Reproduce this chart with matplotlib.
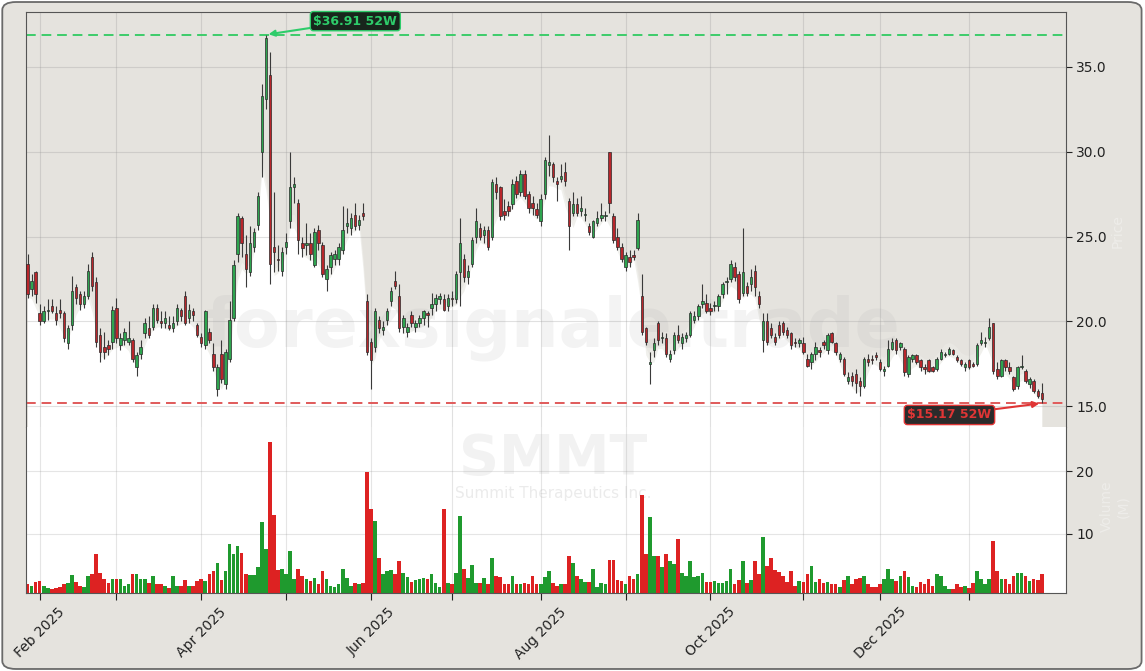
import numpy as np
import pandas as pd
import matplotlib
matplotlib.use("Agg")
import matplotlib.pyplot as plt
from matplotlib.patches import FancyBboxPatch

# SMMT daily candles, last 252 sessions (prices in $, volume in millions)
opens = [
    23.4, 21.9, 22.9, 20.5, 20.0, 20.6, 20.9, 20.5, 20.7, 20.5,
    18.7, 19.8, 22.0, 21.6, 21.0, 21.5, 23.8, 22.3, 19.2, 18.5,
    18.6, 18.8, 20.8, 18.6, 18.9, 18.8, 18.9, 17.3, 18.1, 19.3,
    19.6, 19.7, 20.8, 20.0, 19.9, 19.8, 19.6, 20.0, 20.7, 21.5,
    20.2, 20.6, 19.8, 19.1, 18.6, 19.4, 18.1, 16.0, 18.1, 16.3,
    17.8, 20.2, 24.0, 26.1, 24.0, 22.9, 24.4, 25.7, 30.0, 33.1,
    34.5, 24.4, 23.7, 23.0, 24.4, 25.9, 27.9, 27.0, 24.6, 24.5,
    24.6, 23.3, 25.4, 24.5, 22.5, 23.2, 23.7, 23.7, 24.2, 25.6,
    25.5, 26.3, 25.7, 26.4, 21.2, 18.8, 18.5, 20.1, 19.5, 20.1,
    21.2, 22.4, 21.5, 19.7, 19.4, 20.4, 19.7, 19.9, 20.2, 20.5,
    20.8, 21.0, 21.3, 21.3, 20.9, 21.4, 21.3, 22.9, 23.7, 22.6,
    23.4, 25.0, 25.5, 25.1, 25.4, 25.0, 28.1, 27.9, 26.5, 26.8,
    26.9, 28.3, 27.6, 28.7, 27.5, 27.0, 26.6, 25.9, 27.5, 29.2,
    29.3, 28.3, 28.4, 28.8, 27.1, 26.4, 26.9, 26.5, 26.3, 25.6,
    25.0, 25.8, 26.1, 26.2, 30.0, 26.2, 25.0, 24.4, 23.2, 23.8,
    23.9, 24.3, 21.5, 19.6, 17.5, 18.3, 19.9, 19.0, 19.0, 17.8,
    18.3, 19.2, 18.7, 19.0, 19.2, 20.1, 20.3, 21.0, 21.1, 20.8,
    20.9, 20.9, 21.6, 22.3, 22.5, 23.2, 22.8, 21.7, 22.1, 22.2,
    23.0, 21.5, 18.9, 20.0, 19.6, 19.1, 19.8, 19.9, 19.5, 19.3,
    18.8, 18.7, 18.7, 17.8, 17.6, 18.1, 18.3, 18.8, 18.3, 19.3,
    18.7, 17.8, 17.8, 16.5, 16.8, 16.9, 16.5, 16.2, 17.8, 17.8,
    18.0, 17.6, 17.1, 17.4, 18.4, 18.9, 18.5, 18.4, 16.9, 17.8,
    18.0, 17.7, 17.3, 17.7, 17.3, 17.2, 17.8, 18.0, 18.1, 18.3,
    17.9, 17.7, 17.3, 17.7, 17.5, 17.5, 18.7, 18.7, 19.0, 19.9,
    17.2, 16.8, 17.7, 17.3, 16.7, 16.2, 17.3, 17.1, 16.3, 16.5,
    15.9, 15.8,
]
highs = [
    24.0, 22.8, 23.0, 21.0, 20.9, 21.3, 21.3, 20.9, 21.3, 20.6,
    19.8, 22.7, 22.2, 21.8, 21.8, 23.4, 24.1, 22.6, 19.6, 19.4,
    18.9, 20.9, 21.4, 19.3, 19.6, 20.0, 19.0, 18.2, 18.9, 20.2,
    20.3, 21.0, 21.0, 20.6, 20.6, 20.3, 20.3, 21.0, 20.8, 21.8,
    21.0, 20.8, 19.9, 19.3, 20.7, 19.6, 18.7, 17.5, 18.9, 18.4,
    21.2, 23.6, 26.4, 26.2, 25.1, 25.6, 25.5, 27.6, 34.0, 36.91,
    35.9, 27.6, 24.5, 24.4, 25.2, 30.0, 28.5, 27.2, 25.0, 25.8,
    25.2, 25.5, 25.7, 24.7, 23.3, 24.1, 24.2, 24.6, 26.8, 26.7,
    26.4, 27.0, 26.3, 27.0, 21.6, 19.0, 20.8, 20.3, 20.0, 20.8,
    22.0, 23.0, 22.2, 20.4, 19.9, 20.6, 20.1, 20.4, 20.7, 20.6,
    21.7, 21.6, 21.7, 21.6, 21.6, 21.8, 23.0, 26.1, 24.0, 23.3,
    25.0, 26.7, 25.8, 25.6, 25.6, 28.4, 28.5, 28.0, 27.2, 27.1,
    28.4, 28.6, 28.9, 28.9, 27.7, 27.4, 27.0, 27.5, 29.7, 31.0,
    29.4, 28.5, 29.3, 29.4, 27.3, 27.6, 27.3, 27.4, 26.7, 25.8,
    26.0, 26.5, 27.0, 26.5, 30.0, 26.4, 25.5, 24.6, 24.1, 24.2,
    24.2, 26.4, 22.8, 19.7, 18.2, 19.0, 20.0, 19.4, 19.3, 18.3,
    19.4, 19.8, 19.3, 19.4, 20.6, 20.6, 21.0, 22.2, 21.6, 21.1,
    21.2, 21.6, 22.3, 22.6, 23.6, 23.5, 23.0, 25.5, 22.3, 23.1,
    23.3, 21.8, 20.5, 20.5, 19.9, 19.3, 20.0, 20.0, 19.7, 19.4,
    19.0, 19.0, 19.1, 18.1, 18.2, 18.8, 18.5, 18.9, 19.3, 19.4,
    18.8, 18.2, 17.9, 17.0, 17.0, 17.2, 16.7, 17.9, 18.1, 18.0,
    18.2, 17.8, 17.4, 18.9, 19.0, 19.0, 18.8, 18.5, 18.0, 18.1,
    18.1, 17.8, 17.5, 17.8, 17.4, 17.9, 18.4, 18.2, 18.5, 18.4,
    18.0, 17.8, 17.6, 17.8, 17.6, 18.7, 19.4, 19.1, 20.2, 19.9,
    17.6, 17.8, 17.8, 17.6, 16.8, 17.4, 18.0, 17.2, 16.7, 16.6,
    16.0, 16.4,
]
lows = [
    21.4, 21.5, 21.1, 19.8, 19.9, 20.1, 20.5, 19.8, 20.2, 18.8,
    18.4, 19.5, 21.0, 20.7, 20.8, 21.3, 21.8, 18.5, 17.6, 17.8,
    18.0, 18.4, 18.7, 18.3, 18.6, 18.6, 17.6, 16.8, 17.8, 19.0,
    19.0, 19.5, 19.9, 19.6, 19.6, 19.5, 19.4, 19.8, 20.0, 19.8,
    19.9, 20.0, 19.1, 18.5, 18.4, 18.7, 17.1, 15.6, 16.4, 16.0,
    17.6, 20.0, 23.5, 23.8, 22.0, 22.7, 24.1, 25.4, 28.5, 32.5,
    22.2, 22.9, 23.0, 22.7, 24.0, 25.5, 27.0, 24.0, 23.8, 23.9,
    23.6, 23.2, 24.2, 22.6, 21.8, 22.8, 23.3, 23.3, 24.0, 25.2,
    25.1, 25.4, 25.4, 26.0, 18.0, 16.0, 18.2, 19.3, 19.2, 19.8,
    20.9, 21.9, 19.4, 19.3, 19.1, 19.7, 19.4, 19.7, 19.8, 19.7,
    20.4, 20.6, 21.0, 20.6, 20.6, 20.9, 21.1, 20.9, 22.3, 22.2,
    23.2, 24.6, 24.8, 24.6, 24.2, 24.8, 27.2, 26.0, 26.0, 26.2,
    26.6, 27.3, 27.4, 27.2, 26.4, 26.3, 26.1, 25.6, 27.2, 28.6,
    28.2, 27.1, 28.2, 28.0, 24.2, 26.2, 26.2, 26.2, 25.9, 25.1,
    24.9, 25.6, 25.9, 25.9, 26.4, 24.6, 24.2, 23.5, 23.0, 23.2,
    23.6, 24.2, 19.2, 18.6, 16.3, 17.9, 18.6, 18.7, 17.9, 17.6,
    18.1, 18.7, 18.4, 18.8, 19.1, 19.9, 20.1, 20.8, 20.5, 20.4,
    20.6, 20.6, 21.4, 21.6, 22.3, 22.4, 21.1, 21.5, 21.5, 21.8,
    21.5, 20.8, 18.2, 18.6, 19.0, 18.6, 19.0, 19.2, 19.0, 18.4,
    18.5, 18.5, 18.1, 17.3, 17.2, 17.7, 17.9, 18.4, 18.1, 18.7,
    18.0, 17.6, 16.8, 16.3, 16.2, 15.8, 15.6, 16.1, 17.4, 17.5,
    17.7, 17.1, 16.8, 17.3, 18.3, 18.1, 18.3, 16.8, 16.7, 17.6,
    17.5, 17.1, 16.9, 17.0, 17.0, 17.1, 17.7, 17.9, 18.0, 18.0,
    17.6, 17.4, 17.1, 17.2, 17.3, 17.4, 18.6, 18.5, 18.9, 16.9,
    16.6, 16.7, 17.1, 16.9, 15.9, 16.0, 17.2, 16.4, 16.1, 15.8,
    15.5, 15.17,
]
closes = [
    21.6, 22.4, 21.6, 20.0, 20.6, 20.7, 20.6, 20.1, 20.5, 19.0,
    19.6, 21.8, 21.4, 21.0, 21.5, 23.0, 22.1, 18.8, 18.2, 18.2,
    18.4, 20.7, 19.0, 19.0, 19.4, 19.0, 17.8, 18.0, 18.5, 19.9,
    19.2, 20.8, 20.1, 19.9, 20.2, 19.6, 19.9, 20.8, 20.3, 19.9,
    20.7, 20.4, 19.2, 18.7, 20.6, 18.9, 17.3, 17.3, 16.6, 18.2,
    20.1, 23.3, 26.2, 24.6, 23.1, 24.6, 25.3, 27.4, 33.3, 36.7,
    23.4, 24.1, 23.6, 24.1, 24.7, 27.9, 28.1, 24.8, 24.3, 24.6,
    24.0, 25.3, 24.6, 22.8, 23.1, 23.9, 24.0, 24.4, 25.4, 25.8,
    26.1, 25.6, 26.0, 26.2, 18.2, 17.7, 20.6, 19.6, 19.7, 20.6,
    21.8, 22.1, 19.6, 20.2, 19.7, 19.9, 19.9, 20.2, 20.6, 20.4,
    21.0, 21.4, 21.5, 20.7, 21.4, 21.3, 22.8, 24.6, 22.6, 23.0,
    24.8, 25.9, 25.0, 25.4, 24.4, 28.2, 27.6, 26.2, 26.3, 26.5,
    28.1, 27.5, 28.7, 27.4, 26.7, 26.7, 26.3, 27.2, 29.5, 29.4,
    28.5, 28.1, 28.6, 28.3, 25.6, 26.9, 26.4, 26.7, 26.3, 25.3,
    25.9, 26.1, 26.3, 26.3, 27.0, 24.8, 24.4, 23.7, 23.9, 23.5,
    23.8, 26.0, 19.4, 18.8, 17.6, 18.7, 18.9, 19.1, 18.1, 18.1,
    19.2, 18.9, 19.1, 19.2, 20.5, 20.3, 20.9, 21.2, 20.6, 20.6,
    20.9, 21.5, 22.2, 22.4, 23.4, 22.6, 21.3, 22.9, 21.7, 22.6,
    22.0, 21.0, 20.0, 18.8, 19.2, 18.8, 19.2, 19.4, 19.2, 18.6,
    18.7, 18.9, 18.2, 17.4, 18.1, 18.5, 18.2, 18.6, 19.2, 18.8,
    18.2, 18.1, 16.9, 16.7, 16.5, 16.4, 16.2, 17.8, 17.6, 17.7,
    17.9, 17.2, 17.2, 18.4, 18.8, 18.3, 18.7, 17.0, 17.9, 18.0,
    17.6, 17.3, 17.2, 17.1, 17.1, 17.8, 18.2, 18.1, 18.4, 18.1,
    17.7, 17.5, 17.5, 17.3, 17.4, 18.6, 18.9, 18.8, 19.7, 17.1,
    16.8, 17.7, 17.3, 17.1, 16.0, 17.3, 17.4, 16.5, 16.6, 15.9,
    15.6, 15.4,
]
volumes = [
    1.9, 1.6, 2.2, 2.4, 1.7, 1.3, 1.2, 1.3, 1.5, 1.9,
    2.1, 3.4, 2.3, 1.7, 1.4, 3.3, 3.5, 6.8, 3.7, 2.8,
    2.1, 2.8, 2.8, 2.7, 1.7, 1.9, 3.5, 3.6, 2.8, 2.8,
    2.1, 3.3, 1.9, 1.9, 1.7, 1.3, 3.3, 1.6, 1.7, 2.6,
    1.7, 1.7, 2.5, 2.8, 2.5, 3.5, 4.1, 5.3, 2.6, 4.0,
    8.4, 6.7, 8.1, 6.9, 3.6, 3.4, 3.4, 4.6, 11.8, 7.6,
    24.6, 13.0, 4.2, 4.4, 3.6, 7.3, 2.8, 4.4, 3.3, 2.8,
    2.5, 2.9, 2.0, 4.0, 2.8, 1.7, 1.5, 1.9, 4.4, 2.9,
    1.7, 2.1, 2.0, 2.1, 19.8, 14.0, 12.1, 6.1, 3.5, 4.0,
    4.2, 3.5, 5.7, 3.7, 3.0, 2.3, 2.6, 2.8, 2.9, 2.8,
    3.6, 2.1, 1.4, 14.0, 2.1, 2.0, 3.7, 12.8, 4.4, 2.9,
    5.0, 2.1, 2.1, 2.9, 1.9, 6.1, 3.2, 3.0, 1.9, 1.9,
    3.3, 1.9, 1.9, 2.1, 2.0, 3.3, 2.0, 2.0, 3.0, 4.0,
    2.1, 1.7, 1.9, 1.9, 6.5, 5.3, 3.3, 2.7, 2.3, 2.3,
    4.4, 1.5, 2.1, 2.0, 5.8, 5.8, 2.6, 2.5, 1.9, 3.2,
    2.8, 3.5, 16.2, 6.8, 12.6, 6.4, 6.5, 4.6, 6.7, 5.6,
    5.2, 9.2, 3.7, 3.3, 5.7, 3.0, 3.2, 3.7, 2.3, 2.3,
    2.5, 2.1, 2.1, 2.5, 4.4, 1.9, 2.6, 5.6, 2.1, 2.6,
    5.7, 3.5, 9.5, 4.8, 6.1, 4.2, 3.8, 3.2, 2.2, 4.0,
    1.7, 2.5, 2.3, 3.5, 4.9, 2.2, 2.7, 2.1, 2.3, 2.0,
    1.9, 1.5, 2.6, 3.2, 2.0, 2.7, 2.9, 3.3, 1.9, 1.4,
    1.4, 1.9, 2.7, 4.3, 2.8, 2.5, 3.2, 4.0, 3.0, 1.7,
    1.5, 2.3, 2.0, 2.7, 1.6, 3.6, 3.3, 1.7, 1.2, 1.2,
    1.9, 1.5, 1.7, 1.3, 2.1, 4.1, 2.7, 1.9, 2.8, 8.8,
    4.1, 2.8, 2.7, 2.0, 3.2, 3.7, 3.7, 3.2, 2.4, 2.7,
    2.6, 3.5,
]
holidays = ["2025-02-17", "2025-04-18", "2025-05-26", "2025-06-19", "2025-07-04",
            "2025-09-01", "2025-11-27", "2025-12-25", "2026-01-01", "2026-01-19"]
ticker = "SMMT"
company = "Summit Therapeutics Inc."

dates = pd.bdate_range(end="2026-01-29", periods=len(closes), freq="C", holidays=holidays)

o = np.array(opens)
h = np.array(highs)
l = np.array(lows)
c = np.array(closes)
v = np.array(volumes)
x = np.arange(len(c))
up = c >= o

BG = "#e5e3de"
SPINE = "#555555"

fig = plt.figure(figsize=(11.45, 6.71), dpi=100, facecolor="white")
fig.patches.append(FancyBboxPatch((0.002, 0.003), 0.995, 0.994,
                                  boxstyle="round,pad=0,rounding_size=0.012",
                                  transform=fig.transFigure, facecolor=BG,
                                  edgecolor="#6a6a6a", lw=1.3, zorder=-10))

left, right = 25.5 / 1145, 1066 / 1145
ax = fig.add_axes([left, 1 - 427 / 671, right - left, (427 - 12) / 671])
axv = fig.add_axes([left, 1 - 593 / 671, right - left, (593 - 427) / 671], sharex=ax)

# price panel
rng = h.max() - l.min()
ylo, yhi = l.min() - 0.064 * rng, h.max() + 0.061 * rng
ax.set_facecolor(BG)
ax.set_axisbelow("line")
ax.grid(True, color="#999999", alpha=0.3, lw=0.8)

# soft white area under the lows
smooth = pd.Series(l).rolling(3, center=True, min_periods=1).mean().values
ax.fill_between(x, smooth + 0.8, ylo, color="white", alpha=0.18, lw=0, zorder=1)
ax.fill_between(x, smooth + 0.4, ylo, color="white", alpha=0.35, lw=0, zorder=1)
ax.fill_between(x, smooth, ylo, color="white", lw=0, zorder=1)

ax.text(0.507, 0.24, "forexsignale.trade", transform=ax.transAxes, ha="center",
        va="center", fontsize=48, fontweight="bold", color="#b0b0b0", alpha=0.15,
        zorder=1.2)

ax.vlines(x, l, h, color="#3a3a3a", lw=0.8, zorder=3)
ax.bar(x, np.maximum(np.abs(c - o), 0.05), bottom=np.minimum(o, c), width=0.6,
       color=np.where(up, "#2ea44f", "#b8262b"), edgecolor="#2a2a2a", lw=0.5, zorder=4)

hi_i = int(np.argmax(h))
lo_i = int(np.argmin(l))
ax.axhline(h[hi_i], color="#3dcc6a", ls=(0, (5, 3)), lw=1.4, zorder=2.5)
ax.axhline(l[lo_i], color="#e05a5a", ls=(0, (5, 3)), lw=1.4, zorder=2.5)
ax.annotate(f"${h[hi_i]:.2f} 52W", xy=(hi_i + 0.3, h[hi_i]), xytext=(0.317, 0.978),
            textcoords="axes fraction", ha="center", va="center", fontsize=9,
            fontweight="bold", color="#2ecc6a",
            bbox=dict(boxstyle="round,pad=0.25", fc="#18261c", ec="#2ecc6a", lw=1),
            arrowprops=dict(arrowstyle="-|>", color="#2ecc6a", lw=1.5, shrinkA=0, shrinkB=1),
            zorder=6)
ax.annotate(f"${l[lo_i]:.2f} 52W", xy=(lo_i - 0.3, l[lo_i]), xytext=(0.888, 0.029),
            textcoords="axes fraction", ha="center", va="center", fontsize=9,
            fontweight="bold", color="#e03535",
            bbox=dict(boxstyle="round,pad=0.25", fc="#2b2b2b", ec="#e03535", lw=1),
            arrowprops=dict(arrowstyle="-|>", color="#e03535", lw=1.5, shrinkA=0, shrinkB=1),
            zorder=6)

ax.set_ylim(ylo, yhi)
ax.set_xlim(-0.5, len(x) + 5)
ax.yaxis.tick_right()
ax.set_yticks([15, 20, 25, 30, 35])
ax.set_yticklabels([f"{t:.1f}" for t in [15, 20, 25, 30, 35]])
ax.tick_params(axis="y", length=4, labelsize=10, colors="#222222")
ax.tick_params(axis="x", which="both", bottom=False, labelbottom=False)
ax.spines["bottom"].set_visible(False)
for s in ("top", "left", "right"):
    ax.spines[s].set_color(SPINE)

# volume panel
axv.set_facecolor("white")
axv.set_axisbelow(True)
axv.grid(True, color="#999999", alpha=0.25, lw=0.8)
axv.text(0.507, 0.805, ticker, transform=axv.transAxes, ha="center", va="center",
         fontsize=40, fontweight="bold", color="#b0b0b0", alpha=0.16, zorder=0.8)
axv.text(0.507, 0.6, company, transform=axv.transAxes, ha="center", va="center",
         fontsize=11, color="#b0b0b0", alpha=0.25, zorder=0.8)
axv.bar(x, v, width=0.9, color=np.where(up, "#1f9a2e", "#dd2222"), zorder=2)
axv.set_ylim(0.5, v.max() * 1.1)
axv.yaxis.tick_right()
axv.set_yticks([10, 20])
axv.tick_params(axis="y", length=4, labelsize=10, colors="#222222")
axv.spines["top"].set_visible(False)
for s in ("bottom", "left", "right"):
    axv.spines[s].set_color(SPINE)

month_starts = [i for i in range(1, len(dates)) if dates[i].month != dates[i - 1].month]
axv.set_xticks(month_starts)
axv.set_xticklabels([dates[i].strftime("%b %Y") if dates[i].month % 2 == 0 else ""
                     for i in month_starts], rotation=45)
axv.tick_params(axis="x", length=5, labelsize=10, colors="#222222")

fig.text(0.9765, 0.655, "Price", rotation=90, ha="center", va="center",
         fontsize=10, color="white", alpha=0.35)
fig.text(0.974, 0.245, "Volume\n(M)", rotation=90, ha="center", va="center",
         fontsize=10, color="white", alpha=0.35, multialignment="center")

fig.savefig("out.png", dpi=100, facecolor=fig.get_facecolor())
